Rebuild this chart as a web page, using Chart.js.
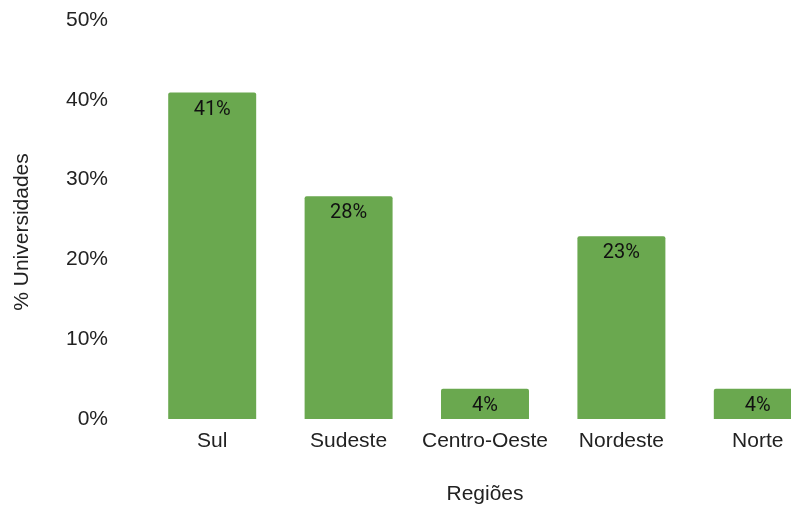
<!DOCTYPE html>
<html>
<head>
<meta charset="utf-8">
<script src="https://cdn.jsdelivr.net/npm/chart.js@4"></script>
<style>
html,body{margin:0;padding:0;background:#fff;overflow:hidden;}
#wrap{position:relative;width:826px;height:507px;}
</style>
</head>
<body>
<div id="wrap"><canvas id="c" width="826" height="507"></canvas></div>
<script>
const categories = ['Sul', 'Sudeste', 'Centro-Oeste', 'Nordeste', 'Norte'];
const values = [40.9, 27.9, 3.8, 22.9, 3.8];
const yTicks = [0, 10, 20, 30, 40, 50];
const xTitle = 'Regiões';
const yTitle = '% Universidades';

const barColor = '#6aa84f';
const textColor = '#222222';

const dataLabels = {
  id: 'dataLabels',
  afterDatasetsDraw(chart) {
    const ctx = chart.ctx;
    const meta = chart.getDatasetMeta(0);
    ctx.save();
    ctx.font = '20px Roboto';
    ctx.fillStyle = '#111111';
    ctx.textAlign = 'center';
    ctx.textBaseline = 'middle';
    meta.data.forEach((bar, i) => {
      ctx.fillText(Math.round(values[i]) + '%', bar.x, bar.y + 17);
    });
    ctx.restore();
  }
};

const yTitlePlugin = {
  id: 'yTitlePlugin',
  afterDraw(chart) {
    const ctx = chart.ctx;
    ctx.save();
    ctx.font = '21px "Liberation Sans"';
    ctx.fillStyle = textColor;
    ctx.textAlign = 'center';
    ctx.textBaseline = 'middle';
    ctx.translate(22, 232);
    ctx.rotate(-Math.PI / 2);
    ctx.fillText(yTitle, 0, 0);
    ctx.restore();
  }
};

new Chart(document.getElementById('c'), {
  type: 'bar',
  data: {
    labels: categories,
    datasets: [{
      data: values,
      backgroundColor: barColor,
      borderRadius: 2,
      borderSkipped: 'bottom',
      barPercentage: 0.645,
      categoryPercentage: 1
    }]
  },
  options: {
    responsive: false,
    animation: false,
    layout: { padding: 0 },
    plugins: { legend: { display: false }, tooltip: { enabled: false } },
    scales: {
      x: {
        grid: { display: false },
        border: { display: false },
        ticks: { color: textColor, font: { family: 'Liberation Sans', size: 21 }, padding: 2, maxRotation: 0, autoSkip: false },
        title: { display: true, text: xTitle, color: textColor, font: { family: 'Liberation Sans', size: 21 }, padding: { top: 0, bottom: 0 } },
        afterFit(scale) { scale.height = 88; }
      },
      y: {
        min: 0,
        max: 50,
        afterBuildTicks(scale) { scale.ticks = yTicks.map(v => ({ value: v })); },
        grid: { display: false, drawTicks: false },
        border: { display: false },
        ticks: { color: textColor, font: { family: 'Liberation Sans', size: 21 }, padding: 36, callback: v => v + '%' },
        afterFit(scale) { scale.width = 144; scale.paddingTop = 20; scale.paddingBottom = 12; }
      }
    }
  },
  plugins: [dataLabels, yTitlePlugin]
});
</script>
</body>
</html>
